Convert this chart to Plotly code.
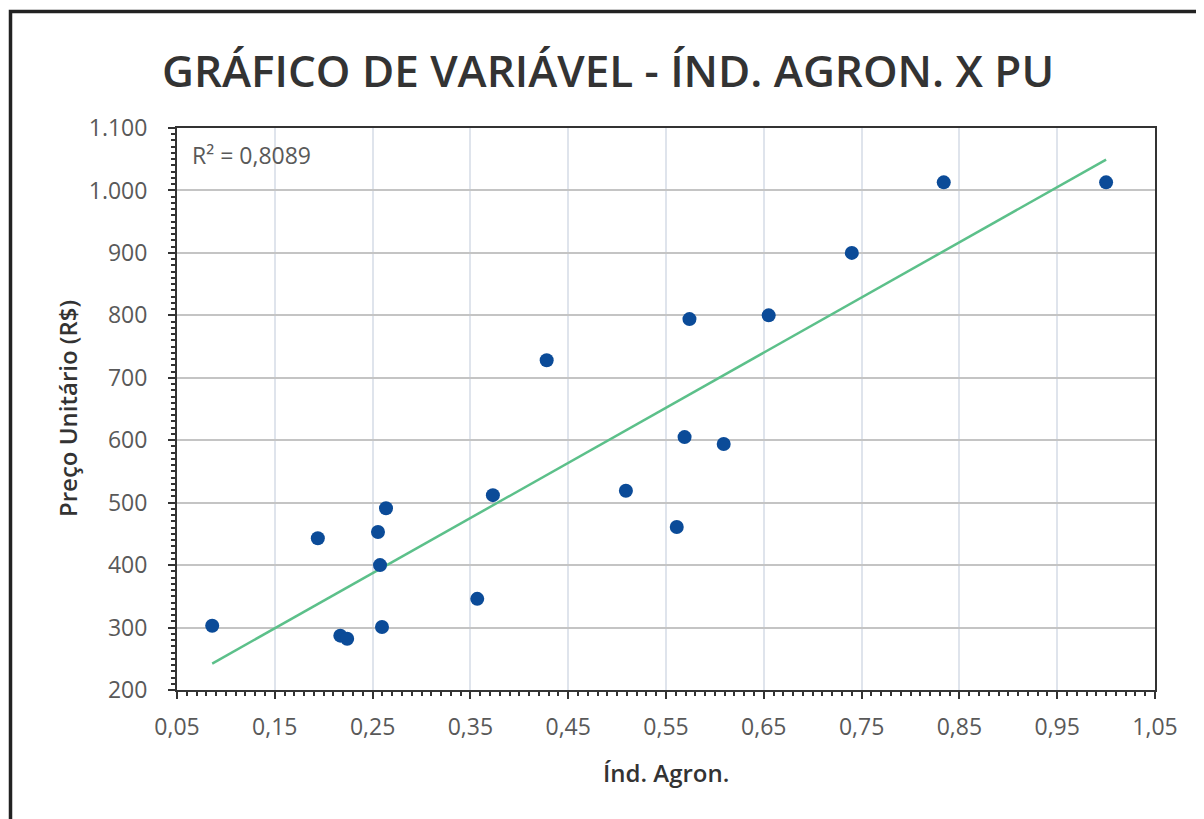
import numpy as np
import plotly.graph_objects as go

ind_agron = [0.086, 0.194, 0.217, 0.224, 0.2555, 0.2576, 0.2596, 0.2637, 0.357, 0.373,
             0.428, 0.509, 0.561, 0.569, 0.574, 0.609, 0.655, 0.740, 0.834, 1.000]
preco_unit = [303, 443, 287, 282, 453, 400, 301, 491, 346, 512,
              728, 519, 461, 605, 794, 594, 800, 900, 1013, 1013]

x_ticks = [0.05, 0.15, 0.25, 0.35, 0.45, 0.55, 0.65, 0.75, 0.85, 0.95, 1.05]
y_ticks = [200, 300, 400, 500, 600, 700, 800, 900, 1000, 1100]
r2_label = "R² = 0,8089"
title_text = "GRÁFICO DE VARIÁVEL - ÍND. AGRON. X PU"
x_title = "Índ. Agron."
y_title = "Preço Unitário (R$)"

xa = np.array(ind_agron)
ya = np.array(preco_unit)
slope, intercept = np.polyfit(xa, ya, 1)
fit_x = [xa.min(), xa.max()]
fit_y = [slope * v + intercept for v in fit_x]

FONT = "Open Sans"
fig = go.Figure()
fig.add_trace(go.Scatter(x=fit_x, y=fit_y, mode="lines",
                         line=dict(color="#5cc08a", width=2.5), hoverinfo="skip"))
fig.add_trace(go.Scatter(x=ind_agron, y=preco_unit, mode="markers",
                         marker=dict(color="#0b4b98", size=14)))

# page is offset by the 8px body margin
W, H = 1204, 819
ml, mt = 169, 120
pw, ph = 978, 562
mr, mb = W - ml - pw, H - mt - ph


def px_x(p):
    return (p - ml) / pw


def px_y(p):
    return (mt + ph - p) / ph


fig.add_shape(type="rect", xref="paper", yref="paper",
              x0=px_x(2.5), x1=px_x(1240), y0=px_y(860), y1=px_y(3.5),
              line=dict(color="#222222", width=3.5), layer="below")

fig.add_annotation(x=px_x(600), y=px_y(62), xref="paper", yref="paper",
                   xanchor="center", yanchor="middle", text=title_text, showarrow=False,
                   font=dict(family=FONT, size=44, color="#333333", weight=600))
fig.add_annotation(x=px_x(182), y=px_y(147), xref="paper", yref="paper",
                   xanchor="left", yanchor="middle", text=r2_label, showarrow=False,
                   font=dict(family=FONT, size=23, color="#595959"))
fig.add_annotation(x=0.5, y=px_y(764), xref="paper", yref="paper",
                   xanchor="center", yanchor="middle", text=x_title, showarrow=False,
                   font=dict(family=FONT, size=24, color="#333333", weight=600))
fig.add_annotation(x=px_x(59), y=0.5, xref="paper", yref="paper", textangle=-90,
                   xanchor="center", yanchor="middle", text=y_title, showarrow=False,
                   font=dict(family=FONT, size=24, color="#333333", weight=600))

fig.update_layout(
    width=W, height=H, showlegend=False,
    margin=dict(l=ml, r=mr, t=mt, b=mb),
    paper_bgcolor="white", plot_bgcolor="white",
    separators=",.",
    font=dict(family=FONT),
)
fig.update_xaxes(
    range=[0.05, 1.05], tickvals=x_ticks, tickformat=".2f",
    showgrid=True, gridcolor="#dfe4ec", gridwidth=2,
    showline=True, linecolor="#333333", linewidth=2, mirror=True,
    ticks="outside", ticklen=7, tickwidth=2, tickcolor="#333333",
    minor=dict(dtick=0.01, ticks="outside", ticklen=4, tickwidth=1.5, tickcolor="#333333", showgrid=False),
    tickfont=dict(family=FONT, size=23, color="#595959"),
    ticklabelstandoff=8,
    zeroline=False,
)
fig.update_yaxes(
    range=[200, 1100], tickvals=y_ticks, tickformat=",d", separatethousands=True,
    showgrid=True, gridcolor="#c4c4c4", gridwidth=2,
    showline=True, linecolor="#333333", linewidth=2, mirror=True,
    ticks="outside", ticklen=7, tickwidth=2, tickcolor="#333333",
    minor=dict(dtick=10, ticks="outside", ticklen=4, tickwidth=1.5, tickcolor="#333333", showgrid=False),
    tickfont=dict(family=FONT, size=23, color="#595959"),
    ticklabelstandoff=16,
    zeroline=False,
)

fig.write_html("out.html")
